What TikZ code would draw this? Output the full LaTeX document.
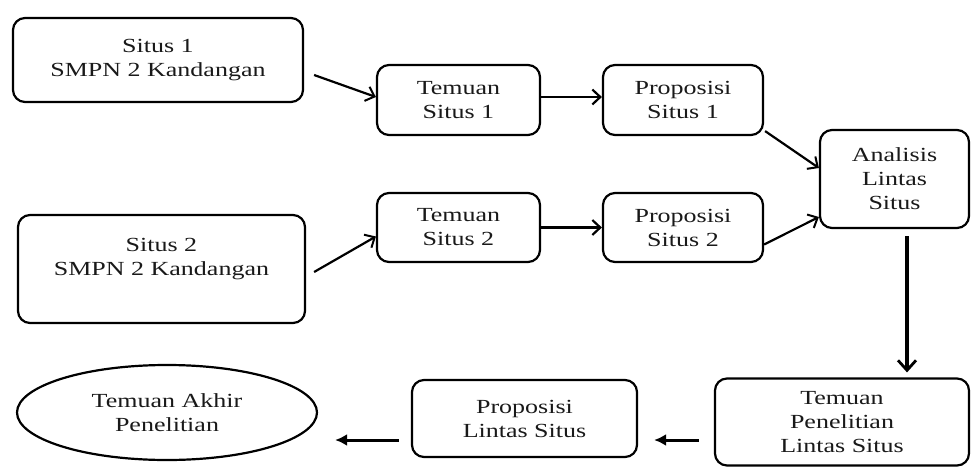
\documentclass[tikz,border=0pt]{standalone}
\usepackage{fontspec}
\setmainfont{Liberation Serif}[FakeStretch=1.3]
\usetikzlibrary{arrows.meta,shapes.geometric,calc}
\begin{document}
\begin{tikzpicture}[x=1pt,y=-1pt,
  box/.style={draw=black, line width=2.2pt, rounded corners=12pt, inner sep=0pt,
    align=center, text=black!90, font=\fontsize{20}{24}\selectfont},
  oval/.style={draw=black, ellipse, line width=2.2pt, inner sep=0pt,
    align=center, text=black!90, font=\fontsize{20}{24}\selectfont},
  arr/.style={line width=2.6pt, -{Straight Barb[length=8pt,width=15pt,line width=2.2pt]}},
  thinarr/.style={line width=2.2pt, -{Straight Barb[length=8pt,width=15pt,line width=2pt]}},
  bigarr/.style={line width=3.4pt, -{Straight Barb[length=10pt,width=18pt,line width=2.8pt]}},
  lowarr/.style={line width=3pt, -{Latex[length=12pt,width=12pt]}}
]
\useasboundingbox (0,0) rectangle (971,468);

\node[box, minimum width=290pt, minimum height=84pt] (s1) at (158,60) {Situs 1\\SMPN 2 Kandangan};
\node[box, minimum width=163pt, minimum height=70pt] (t1) at (458.5,100) {Temuan\\Situs 1};
\node[box, minimum width=160pt, minimum height=70pt] (p1) at (683,100) {Proposisi\\Situs 1};
\node[box, minimum width=149pt, minimum height=98pt] (an) at (894.5,179) {Analisis\\Lintas\\Situs};
\node[box, minimum width=287pt, minimum height=108pt] (s2) at (161.5,269) {Situs 2\\SMPN 2 Kandangan\\~};
\node[box, minimum width=163pt, minimum height=69pt] (t2) at (458.5,227.5) {Temuan\\Situs 2};
\node[box, minimum width=160pt, minimum height=69pt] (p2) at (683,227.5) {Proposisi\\Situs 2};
\node[box, minimum width=254pt, minimum height=87pt] (tp) at (842,422) {Temuan\\Penelitian\\Lintas Situs};
\node[box, minimum width=225pt, minimum height=77pt] (pl) at (524.5,418.5) {Proposisi\\Lintas Situs};
\node[oval, minimum width=300pt, minimum height=95pt] (el) at (167,412.5) {Temuan Akhir\\Penelitian};

\draw[thinarr] ($(s1.east)+(10,15)$) -- ($(t1.west)+(0,-3)$);
\draw[thinarr] ($(s2.east)+(8,3)$) -- ($(t2.west)+(0,9)$);
\draw[arr] ($(t1.east)+(0,-3)$) -- ($(p1.west)+(0,-3)$);
\draw[arr] (t2.east) -- (p2.west);
\draw[thinarr] ($(p1.south east)+(1,-5)$) -- ($(an.west)+(0,-11)$);
\draw[thinarr] ($(p2.east)+(0,17)$) -- ($(an.west)+(0,38)$);
\draw[bigarr] ($(an.south)+(12.5,7)$) -- ($(tp.north)+(65,-5)$);
\draw[lowarr] ($(tp.west)+(-15,18)$) -- ($(pl.east)+(16,21.5)$);
\draw[lowarr] ($(pl.west)+(-12,21.5)$) -- ($(el.east)+(17,27.5)$);
\end{tikzpicture}
\end{document}
